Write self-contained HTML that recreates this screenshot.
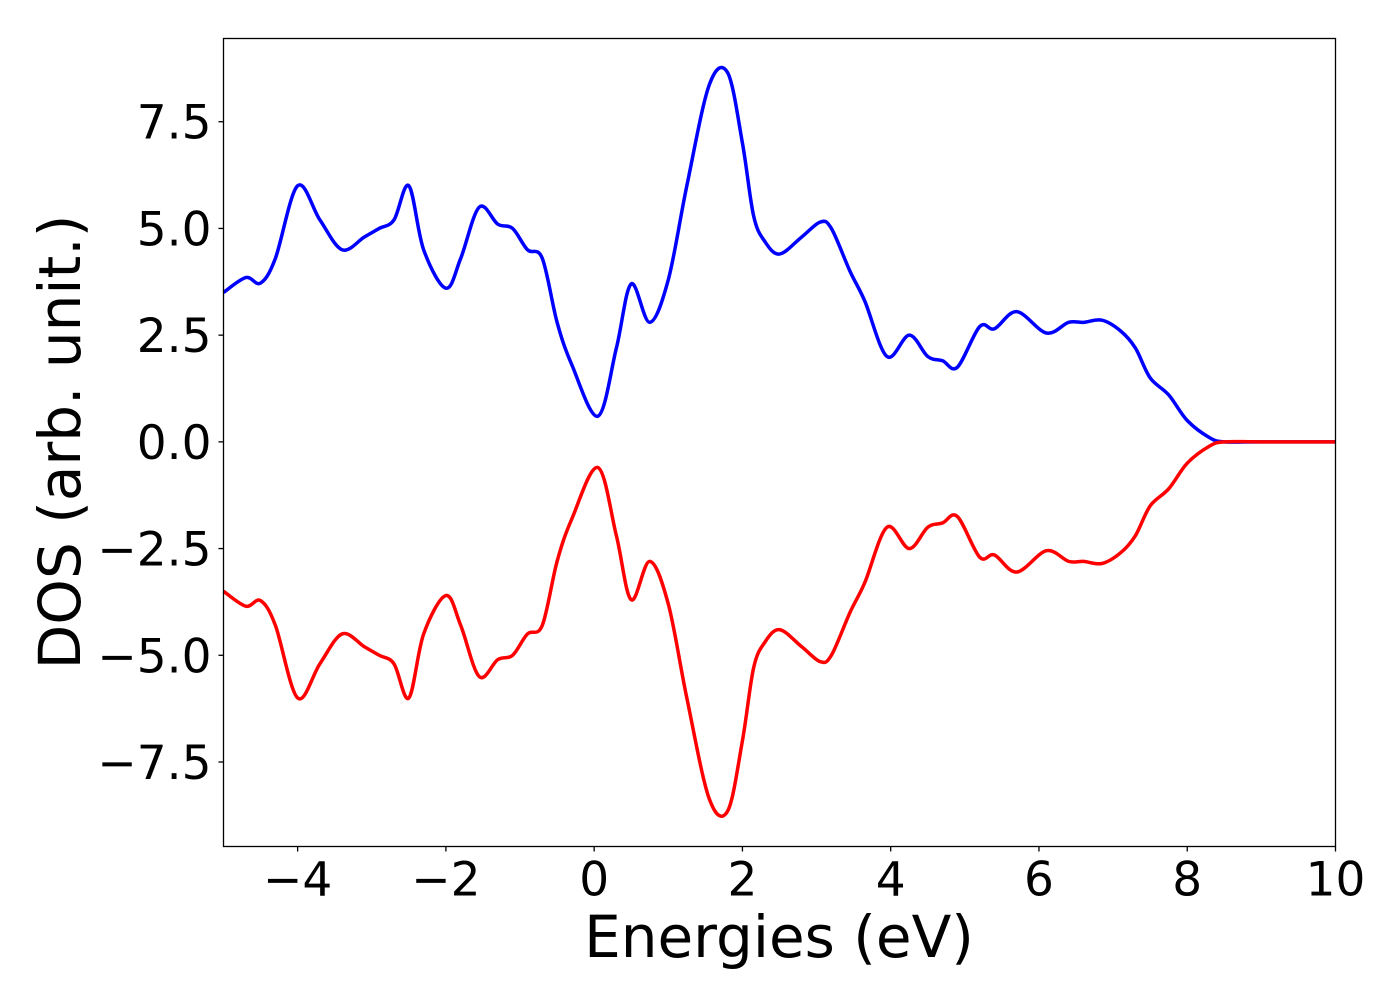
<!DOCTYPE html>
<html><head><meta charset="utf-8"><style>
body{margin:0;background:#fff;}
svg text{font-family:"DejaVu Sans","Liberation Sans",sans-serif;fill:#000;}
</style></head><body>
<svg id="chart" width="1400" height="1000" xmlns="http://www.w3.org/2000/svg">
<rect width="1400" height="1000" fill="#fff"/>
<g id="marks"></g>
<rect x="223.5" y="38.5" width="1112" height="808" fill="none" stroke="#000" stroke-width="1.3"/>
<g id="axes"></g>
<text x="779" y="957" font-size="58" text-anchor="middle">Energies (eV)</text>
<text transform="translate(80,442) rotate(-90)" font-size="58" text-anchor="middle">DOS (arb. unit.)</text>
</svg>
<script>
const energies=[-5,-4.7,-4.5,-4.3,-4.0,-3.7,-3.4,-3.1,-2.9,-2.7,-2.5,-2.3,-2.0,-1.8,-1.55,-1.3,-1.1,-0.9,-0.7,-0.5,-0.3,0.05,0.3,0.5,0.75,1.0,1.25,1.55,1.8,2.0,2.15,2.3,2.5,2.8,3.05,3.2,3.45,3.65,3.95,4.25,4.5,4.7,4.9,5.2,5.4,5.7,6.1,6.4,6.6,6.85,7.1,7.3,7.5,7.75,8.0,8.3,8.5,9,10];
const dosUp=[3.5,3.85,3.72,4.3,6.0,5.2,4.5,4.8,5.0,5.2,6.0,4.5,3.6,4.3,5.5,5.1,5.0,4.5,4.3,2.8,1.8,0.6,2.2,3.7,2.8,3.8,6.0,8.35,8.65,7.0,5.3,4.7,4.4,4.8,5.15,5.0,4.0,3.3,2.0,2.5,2.0,1.9,1.75,2.7,2.65,3.05,2.55,2.8,2.8,2.85,2.6,2.2,1.5,1.1,0.5,0.1,0.0,0,0];
const dosDown=[-3.5,-3.85,-3.72,-4.3,-6.0,-5.2,-4.5,-4.8,-5.0,-5.2,-6.0,-4.5,-3.6,-4.3,-5.5,-5.1,-5.0,-4.5,-4.3,-2.8,-1.8,-0.6,-2.2,-3.7,-2.8,-3.8,-6.0,-8.35,-8.65,-7.0,-5.3,-4.7,-4.4,-4.8,-5.15,-5.0,-4.0,-3.3,-2.0,-2.5,-2.0,-1.9,-1.75,-2.7,-2.65,-3.05,-2.55,-2.8,-2.8,-2.85,-2.6,-2.2,-1.5,-1.1,-0.5,-0.1,0.0,0,0];
const xTicks=[-4,-2,0,2,4,6,8,10];
const xTickLabels=["\u22124","\u22122","0","2","4","6","8","10"];
const yTicks=[-7.5,-5,-2.5,0,2.5,5,7.5];
const yTickLabels=["\u22127.5","\u22125.0","\u22122.5","0.0","2.5","5.0","7.5"];
const X0=223.5,X1=1335.5,Y0=846.5,Y1=38.5,XMIN=-5,XMAX=10,YMIN=-9.48,YMAX=9.45;
const sx=v=>X0+(v-XMIN)/(XMAX-XMIN)*(X1-X0);
const sy=v=>Y0-(v-YMIN)/(YMAX-YMIN)*(Y0-Y1);
const NS="http://www.w3.org/2000/svg";
function path(xs,ys){
  const p=xs.map((x,i)=>[sx(x),sy(ys[i])]);
  let d="M"+p[0][0]+","+p[0][1];
  for(let i=0;i<p.length-1;i++){
    const a=p[Math.max(i-1,0)],b=p[i],c=p[i+1],e=p[Math.min(i+2,p.length-1)];
    const c1=[b[0]+(c[0]-a[0])/6,b[1]+(c[1]-a[1])/6],c2=[c[0]-(e[0]-b[0])/6,c[1]-(e[1]-b[1])/6];
    d+=` C${c1[0]},${c1[1]} ${c2[0]},${c2[1]} ${c[0]},${c[1]}`;
  }
  return d;
}
const marks=document.getElementById('marks');
[[dosUp,'#0000ff','dos-spin-up-line'],[dosDown,'#ff0000','dos-spin-down-line']].forEach(([ys,col,nm])=>{
  const el=document.createElementNS(NS,'path');
  el.setAttribute('d',path(energies,ys));
  el.setAttribute('fill','none');el.setAttribute('stroke',col);el.setAttribute('stroke-width','3.5');
  
  
  marks.appendChild(el);
});
const axes=document.getElementById('axes');
xTicks.forEach((t,i)=>{
  const l=document.createElementNS(NS,'line');
  l.setAttribute('x1',sx(t));l.setAttribute('x2',sx(t));l.setAttribute('y1',Y0);l.setAttribute('y2',Y0+5);l.setAttribute('stroke','#000');l.setAttribute('stroke-width','1.3');
  
  
  axes.appendChild(l);
  const tx=document.createElementNS(NS,'text');
  tx.setAttribute('x',sx(t));tx.setAttribute('y',Y0+49);tx.setAttribute('font-size','47');tx.setAttribute('text-anchor','middle');
  tx.textContent=xTickLabels[i];
  
  
  axes.appendChild(tx);
});
yTicks.forEach((t,i)=>{
  const l=document.createElementNS(NS,'line');
  l.setAttribute('x1',X0-5);l.setAttribute('x2',X0);l.setAttribute('y1',sy(t));l.setAttribute('y2',sy(t));l.setAttribute('stroke','#000');l.setAttribute('stroke-width','1.3');
  
  
  axes.appendChild(l);
  const tx=document.createElementNS(NS,'text');
  tx.setAttribute('x',X0-12);tx.setAttribute('y',sy(t)+17);tx.setAttribute('font-size','47');tx.setAttribute('text-anchor','end');
  tx.textContent=yTickLabels[i];
  
  
  axes.appendChild(tx);
});
</script>
</body></html>
